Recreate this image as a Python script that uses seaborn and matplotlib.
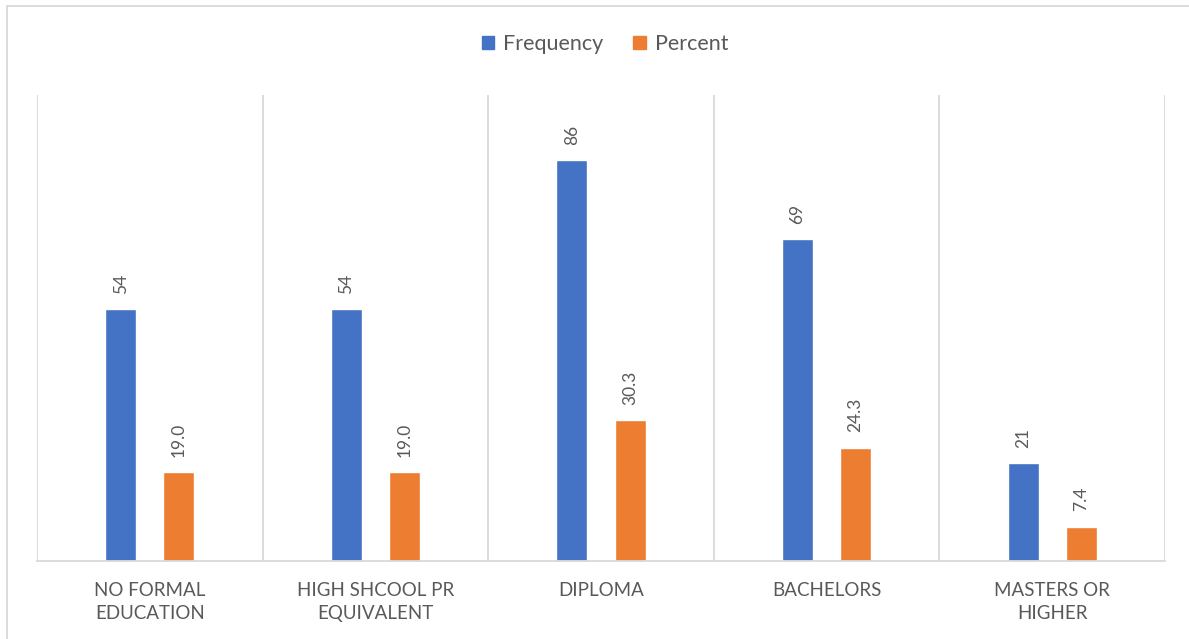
import matplotlib
matplotlib.use("Agg")
import matplotlib.pyplot as plt
from matplotlib.lines import Line2D
import seaborn as sns
import pandas as pd

# Education level breakdown
categories = ["NO FORMAL\nEDUCATION", "HIGH SHCOOL PR\nEQUIVALENT", "DIPLOMA",
              "BACHELORS", "MASTERS OR\nHIGHER"]
frequency = [54, 54, 86, 69, 21]
percent = [19.0, 19.0, 30.3, 24.3, 7.4]
series_names = ["Frequency", "Percent"]

BLUE = "#4472C4"
ORANGE = "#ED7D31"
GRID = "#D9D9D9"
TEXT = "#595959"

sns.set_theme(style="white")
plt.rcParams["font.family"] = ["Lato", "DejaVu Sans"]

df = pd.DataFrame({
    "category": categories * 2,
    "series": [series_names[0]] * len(categories) + [series_names[1]] * len(categories),
    "value": frequency + percent,
})

fig = plt.figure(figsize=(11.89, 6.39), dpi=100)
ax = fig.add_axes([37 / 1189, 1 - 561 / 639, (1165 - 37) / 1189, (561 - 95) / 639])

sns.barplot(data=df, x="category", y="value", hue="series", order=categories,
            hue_order=series_names, palette=[BLUE, ORANGE], width=0.516, gap=0.47,
            saturation=1, errorbar=None, ax=ax, legend=False)

ax.set_ylim(0, 100)
ax.set_xlim(-0.5, len(categories) - 0.5)
ax.set_xlabel("")
ax.set_ylabel("")
ax.set_yticks([])

# Category separators
ax.set_xticks([i + 0.5 for i in range(-1, len(categories))], minor=True)
ax.grid(True, which="minor", axis="x", color=GRID, linewidth=1.3)
ax.grid(False, which="major")
ax.tick_params(axis="x", which="both", length=0, pad=15)
for lbl in ax.get_xticklabels():
    lbl.set_color(TEXT)
    lbl.set_fontsize(13.5)
    lbl.set_linespacing(1.45)
    lbl.set_verticalalignment("top")

for side in ["top", "left", "right"]:
    ax.spines[side].set_visible(False)
ax.spines["bottom"].set_color(GRID)
ax.spines["bottom"].set_linewidth(1.3)

# Value labels above bars
fmts = ["{:.0f}", "{:.1f}"]
for container, fmt in zip(ax.containers, fmts):
    ax.bar_label(container, labels=[fmt.format(v) for v in container.datavalues],
                 rotation=90, padding=11, color=TEXT, fontsize=12.5)

# Legend
handles = [plt.Rectangle((0, 0), 1, 1, color=c) for c in (BLUE, ORANGE)]
fig.legend(handles, series_names, loc="center", bbox_to_anchor=(605 / 1189, 1 - 44 / 639),
           ncol=2, frameon=False, fontsize=15.5, handlelength=0.6, handleheight=0.6,
           handletextpad=0.4, columnspacing=1.4, labelcolor=TEXT)

# Chart area border (top and left edges)
fig.add_artist(Line2D([7 / 1189, 7 / 1189], [0, 1 - 6 / 639], transform=fig.transFigure,
                      color=GRID, linewidth=1.3))
fig.add_artist(Line2D([7 / 1189, 1], [1 - 6 / 639, 1 - 6 / 639], transform=fig.transFigure,
                      color=GRID, linewidth=1.3))

fig.savefig("out.png", dpi=100)
